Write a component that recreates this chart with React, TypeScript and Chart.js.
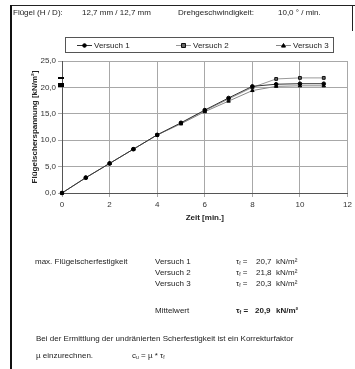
import React, { useEffect, useRef } from "react";
import { Chart, registerables } from "chart.js";

Chart.register(...registerables);

const times = [0, 1, 2, 3, 4, 5, 6, 7, 8, 9, 10, 11];
const versuch1 = [0, 2.9, 5.6, 8.3, 11.0, 13.3, 15.7, 18.0, 20.2, 20.6, 20.7, 20.7];
const versuch2 = [0, 2.9, 5.6, 8.3, 11.0, 13.2, 15.6, 17.8, 20.0, 21.6, 21.8, 21.8];
const versuch3 = [0, 2.9, 5.6, 8.3, 11.0, 13.1, 15.4, 17.4, 19.4, 20.2, 20.3, 20.3];
const seriesNames = ["Versuch 1", "Versuch 2", "Versuch 3"];
const maxValues = [21.8, 20.7, 20.3];
const resultValues = ["20,7", "21,8", "20,3"];
const meanValue = "20,9";

const FONT = '"Liberation Sans", Arial, sans-serif';

const fmt = (v: number) => v.toFixed(1).replace(".", ",");

const maxMarksPlugin = {
  id: "maxMarks",
  afterDatasetsDraw(chart: any) {
    const { ctx, scales } = chart;
    const x = scales.x.getPixelForValue(0);
    ctx.save();
    ctx.strokeStyle = "#000";
    ctx.lineWidth = 2;
    maxValues.forEach((v) => {
      const y = Math.round(scales.y.getPixelForValue(v));
      ctx.beginPath();
      ctx.moveTo(x - 4, y);
      ctx.lineTo(x + 2, y);
      ctx.stroke();
    });
    ctx.restore();
  },
};

const legendBoxPlugin = {
  id: "legendBox",
  afterDraw(chart: any) {
    const { ctx } = chart;
    ctx.save();
    ctx.strokeStyle = "#555";
    ctx.lineWidth = 1;
    ctx.strokeRect(65.5, 37.5, 268, 15);
    const xs = [77, 176, 276];
    const yc = 45;
    chart.data.datasets.forEach((ds: any, i: number) => {
      const x0 = xs[i];
      ctx.strokeStyle = ds.borderColor;
      ctx.lineWidth = 1;
      ctx.beginPath();
      ctx.moveTo(x0, yc + 0.5);
      ctx.lineTo(x0 + 15, yc + 0.5);
      ctx.stroke();
      const style = ds.pointStyle;
      const r = ds.pointRadius;
      const cx = x0 + 7.5;
      ctx.fillStyle = ds.pointBackgroundColor;
      ctx.strokeStyle = ds.pointBorderColor;
      ctx.beginPath();
      if (style === "circle") {
        ctx.arc(cx, yc + 0.5, r, 0, Math.PI * 2);
      } else if (style === "rect") {
        ctx.rect(cx - r, yc + 0.5 - r, 2 * r, 2 * r);
      } else {
        ctx.moveTo(cx, yc + 0.5 - r);
        ctx.lineTo(cx + r, yc + 0.5 + r * 0.8);
        ctx.lineTo(cx - r, yc + 0.5 + r * 0.8);
        ctx.closePath();
      }
      ctx.fill();
      ctx.stroke();
      ctx.fillStyle = "#222";
      ctx.font = `8px ${FONT}`;
      ctx.textBaseline = "middle";
      ctx.textAlign = "left";
      ctx.fillText(ds.label, x0 + 17, yc + 0.5);
    });
    ctx.restore();
  },
};

const txt: React.CSSProperties = {
  position: "absolute",
  fontFamily: FONT,
  fontSize: "8px",
  lineHeight: "10px",
  color: "#222",
  whiteSpace: "nowrap",
};

function T({ x, y, children, bold }: { x: number; y: number; children: any; bold?: boolean }) {
  return (
    <div style={{ ...txt, left: x, top: y - 5, fontWeight: bold ? "bold" : "normal" }}>{children}</div>
  );
}

const Tau = () => (
  <span>
    τ<sub style={{ fontSize: "5px", verticalAlign: "-1px" }}>f</sub>
  </span>
);

export default function App() {
  const ref = useRef<HTMLCanvasElement | null>(null);

  useEffect(() => {
    if (!ref.current) return;
    const mk = (vals: number[]) => vals.map((v, i) => ({ x: times[i], y: v }));
    const chart = new Chart(ref.current, {
      type: "scatter",
      data: {
        datasets: [
          {
            label: seriesNames[0],
            data: mk(versuch1),
            showLine: true,
            borderColor: "#333",
            borderWidth: 1,
            pointStyle: "circle",
            pointRadius: 1.8,
            pointBackgroundColor: "#000",
            pointBorderColor: "#000",
            pointBorderWidth: 1,
            clip: false,
          },
          {
            label: seriesNames[1],
            data: mk(versuch2),
            showLine: true,
            borderColor: "#999",
            borderWidth: 1,
            pointStyle: "rect",
            pointRadius: 2,
            pointBackgroundColor: "#666",
            pointBorderColor: "#111",
            pointBorderWidth: 1,
            clip: false,
          },
          {
            label: seriesNames[2],
            data: mk(versuch3),
            showLine: true,
            borderColor: "#888",
            borderWidth: 1,
            pointStyle: "triangle",
            pointRadius: 2,
            pointBackgroundColor: "#000",
            pointBorderColor: "#000",
            pointBorderWidth: 1,
            clip: false,
          },
        ] as any,
      },
      options: {
        animation: false,
        responsive: false,
        devicePixelRatio: 1,
        layout: { padding: { left: 30, right: 6, top: 61, bottom: 146 } },
        plugins: { legend: { display: false }, tooltip: { enabled: false } },
        scales: {
          x: {
            type: "linear",
            min: 0,
            max: 12,
            afterFit: (s: any) => {
              s.height = 30;
            },
            ticks: {
              stepSize: 2,
              padding: 3,
              color: "#333",
              font: { family: FONT, size: 8 },
              maxRotation: 0,
            },
            grid: { color: "#a8a8a8", lineWidth: 1, tickLength: 4 },
            border: { color: "#555", width: 1 },
            title: {
              display: true,
              text: "Zeit [min.]",
              color: "#222",
              font: { family: FONT, size: 8, weight: "bold" },
              padding: 0,
            },
          },
          y: {
            type: "linear",
            min: 0,
            max: 25,
            afterFit: (s: any) => {
              s.width = 32;
            },
            ticks: {
              stepSize: 5,
              padding: 2,
              color: "#333",
              font: { family: FONT, size: 8 },
              callback: (v: any) => fmt(Number(v)),
            },
            grid: { color: "#a8a8a8", lineWidth: 1, tickLength: 4 },
            border: { color: "#555", width: 1 },
            title: {
              display: true,
              text: "Flügelscherspannung [kN/m²]",
              color: "#222",
              font: { family: FONT, size: 8, weight: "bold" },
              padding: 0,
            },
          },
        },
      } as any,
      plugins: [maxMarksPlugin, legendBoxPlugin],
    });
    return () => chart.destroy();
  }, []);

  return (
    <div style={{ position: "fixed", left: 0, top: 0, width: 355, height: 369, background: "#fff", overflow: "hidden" }}>
      <div style={{ position: "absolute", left: 11, top: 5, width: 344, height: 1, background: "#222" }} />
      <div style={{ position: "absolute", left: 10, top: 5, width: 2, height: 364, background: "#111" }} />
      <div style={{ position: "absolute", left: 352, top: 5, width: 1, height: 26, background: "#222" }} />
      <canvas ref={ref} width={355} height={369} style={{ position: "absolute", left: 0, top: 0 }} />
      <T x={13} y={13}>Flügel (H / D):</T>
      <T x={82} y={13}>12,7 mm / 12,7 mm</T>
      <T x={178} y={13}>Drehgeschwindigkeit:</T>
      <T x={278} y={13}>10,0 ° / min.</T>

      <T x={35} y={262}>max. Flügelscherfestigkeit</T>
      {seriesNames.map((n, i) => (
        <React.Fragment key={n}>
          <T x={155} y={262 + i * 11}>{n}</T>
          <T x={236} y={262 + i * 11}>
            <Tau /> =
          </T>
          <T x={256} y={262 + i * 11}>{resultValues[i]}</T>
          <T x={276} y={262 + i * 11}>
            kN/m²
          </T>
        </React.Fragment>
      ))}
      <T x={155} y={311}>Mittelwert</T>
      <T x={236} y={311} bold>
        <Tau /> =
      </T>
      <T x={255} y={311} bold>
        {meanValue}
      </T>
      <T x={276} y={311} bold>
        kN/m²
      </T>
      <T x={36} y={339}>Bei der Ermittlung der undränierten Scherfestigkeit ist ein Korrekturfaktor</T>
      <T x={36} y={356}>µ einzurechnen.</T>
      <T x={132} y={356}>
        c<sub style={{ fontSize: "5px", verticalAlign: "-1px" }}>u</sub> = µ * <Tau />
      </T>
    </div>
  );
}
